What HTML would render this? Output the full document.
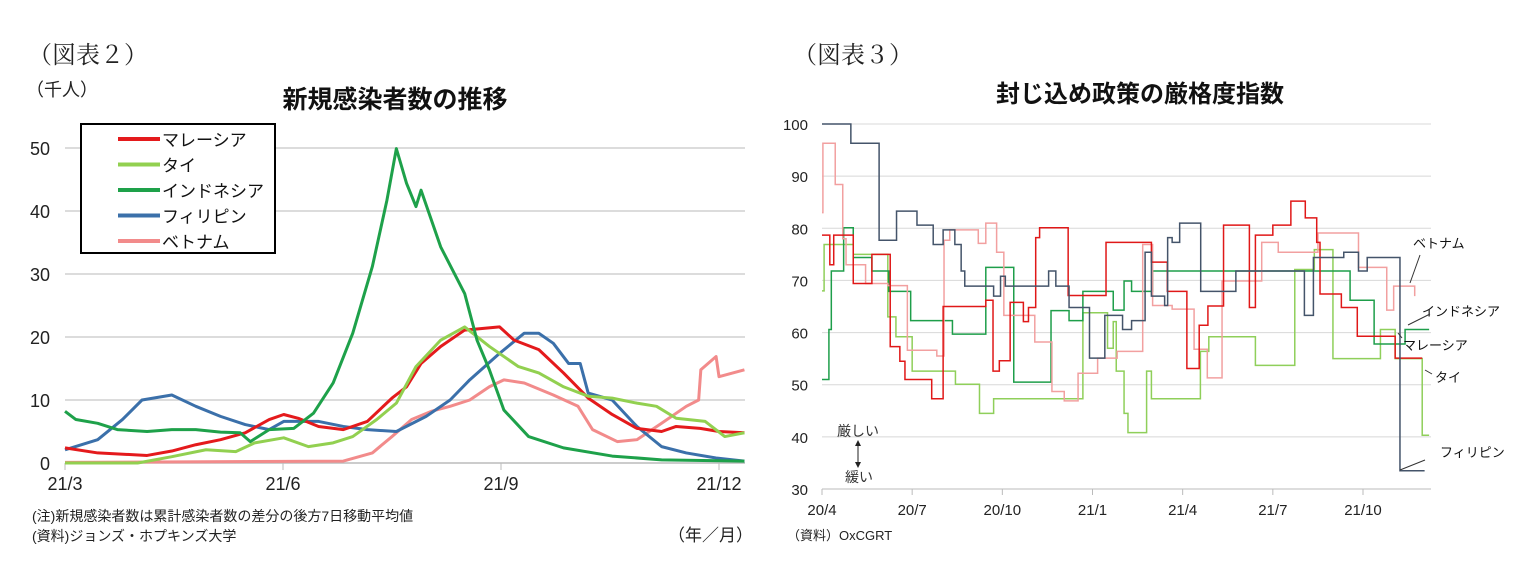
<!DOCTYPE html>
<html><head><meta charset="utf-8">
<style>
body{margin:0;background:#fff;}
svg{display:block;}
text{font-family:"Liberation Sans","Noto Sans CJK JP",sans-serif;}
.serif{font-family:"Liberation Serif","Noto Serif CJK SC",serif;}
</style></head>
<body>
<svg id="svg" width="1528" height="571" viewBox="0 0 1528 571" xmlns="http://www.w3.org/2000/svg">
<g>
<text class="serif" x="28" y="63" font-size="24" fill="#222">（図表２）</text>
<text x="26" y="96" font-size="18" fill="#222">（千人）</text>
<text x="395" y="108" font-size="25" font-weight="bold" text-anchor="middle" fill="#111">新規感染者数の推移</text>
<text x="32" y="521" font-size="14" fill="#222">(注)新規感染者数は累計感染者数の差分の後方7日移動平均値</text>
<text x="32" y="541" font-size="14" fill="#222">(資料)ジョンズ・ホプキンズ大学</text>
<text x="668" y="541" font-size="17" fill="#222">（年／月）</text>
</g>
<g id="c2"></g>
<g>
<text class="serif" x="793" y="63" font-size="24" fill="#222">（図表３）</text>
<text x="1140" y="102" font-size="24" font-weight="bold" text-anchor="middle" fill="#111">封じ込め政策の厳格度指数</text>
<text x="787" y="540" font-size="13" fill="#222">（資料）OxCGRT</text>
</g>
<g id="c3"></g>
</svg>
<script>
// ===== Chart 2 data (months since 21/3) =====
const c2Ticks = ["21/3","21/6","21/9","21/12"];
const c2TickMonths = [0,3,6,9];
const c2YTicks = [0,10,20,30,40,50];
const c2Names = ["マレーシア","タイ","インドネシア","フィリピン","ベトナム"];
const myT=[0,0.45,1.13,1.47,1.8,2.14,2.48,2.81,3.01,3.21,3.49,3.83,4.16,4.5,4.7,4.9,5.17,5.5,5.98,6.18,6.52,6.86,7.2,7.53,7.87,8.21,8.41,8.74,9.0,9.35];
const myV=[2.4,1.6,1.2,1.9,2.9,3.7,4.8,6.9,7.7,7.1,5.8,5.3,6.6,10.3,12.1,15.8,18.5,21.1,21.6,19.5,18,14.3,10.3,7.7,5.5,5,5.8,5.5,5,4.8];
const thT=[0,1.0,1.47,1.94,2.35,2.61,3.01,3.35,3.69,3.96,4.29,4.56,4.83,5.17,5.5,5.84,6.24,6.52,6.86,7.2,7.53,7.87,8.14,8.41,8.81,9.08,9.35];
const thV=[0,0,1,2.1,1.8,3.2,4,2.6,3.2,4.2,6.9,9.5,15.3,19.5,21.6,18.5,15.3,14.3,12.1,10.6,10.3,9.5,9,7.1,6.6,4.2,4.8];
const idT=[0,0.15,0.45,0.72,1.13,1.47,1.8,2.14,2.41,2.55,2.81,3.15,3.42,3.69,3.96,4.23,4.43,4.56,4.7,4.83,4.9,5.17,5.5,5.67,5.84,6.04,6.38,6.86,7.53,8.21,9.35];
const idV=[8.2,6.9,6.3,5.3,5,5.3,5.3,4.9,4.8,3.4,5.3,5.5,7.9,12.7,20.6,31.2,41.7,49.9,44.4,40.7,43.3,34.3,26.9,19.5,14.8,8.4,4.2,2.4,1.1,0.5,0.3];
const phT=[0,0.45,0.79,1.06,1.47,1.8,2.14,2.48,2.81,3.01,3.49,3.83,4.16,4.56,4.97,5.3,5.57,5.98,6.32,6.52,6.72,6.93,7.09,7.2,7.53,7.87,8.21,8.55,8.96,9.35];
const phV=[2.1,3.7,6.9,10,10.8,9,7.4,6.1,5.3,6.6,6.6,5.8,5.3,5,7.4,10,13.2,17.4,20.6,20.6,19,15.8,15.8,11.1,10,5.8,2.6,1.6,0.8,0.3];
const vnT=[0,3.83,4.23,4.5,4.77,5.04,5.3,5.57,5.84,6.04,6.32,6.72,7.06,7.26,7.6,7.87,8.21,8.55,8.72,8.75,8.96,9.0,9.35];
const vnV=[0.1,0.3,1.6,4.2,6.9,8.2,9,10,12.1,13.2,12.7,10.8,9,5.3,3.4,3.7,6.3,9,10,14.8,16.9,13.7,14.8];

// ===== Chart 3 data (months since 20/4), step series =====
const c3Ticks=["20/4","20/7","20/10","21/1","21/4","21/7","21/10"];
const c3TickMonths=[0,3,6,9,12,15,18];
const c3YTicks=[30,40,50,60,70,80,90,100];
const phsT=[0,0.96,1.9,2.48,3.16,3.7,4.03,4.42,4.63,4.75,5.71,5.94,6.1,7.54,7.78,8.22,8.9,9.41,10.0,10.3,10.75,10.96,11.4,11.5,11.65,11.9,12.6,13.77,16.05,16.35,17.36,17.85,18.14,19.23,20.05];
const phsV=[100,96.3,77.7,83.3,80.6,76.9,79.7,76.9,71.8,68.9,67,70.8,68.9,71.8,68.9,64.8,55.1,63.3,60.6,62.3,75.4,67,65.2,78.2,77.3,81,67.9,71.8,63.3,74.4,75.4,71.8,74.4,33.5,33.5];
const mysT=[0,0.26,0.39,1.04,1.66,2.27,2.59,2.76,3.65,4.03,5.45,5.69,5.9,6.26,6.7,6.87,7.11,7.24,8.19,9.45,10.96,11.49,12.14,12.55,12.84,13.36,14.22,14.42,15,15.6,16.08,16.46,16.57,17.28,17.81,19.07,19.97];
const mysV=[78.7,73,78.7,69.4,75,57.3,54.5,51,47.3,65,66.2,52.6,54.6,65.8,62.1,64.8,78.2,80.1,67.1,77.3,73.5,67.9,53.1,61.4,65.1,80.6,64.8,78.7,80.6,85.2,82,77.3,67.4,64.8,59.3,55.1,55.1];
const thsT=[0,0.07,1.04,2.19,2.46,3,4.44,5.24,5.71,8.68,9.5,9.69,9.79,10.05,10.18,10.8,10.96,12.59,12.87,14.42,15.73,16.38,17,18.58,19.07,19.97,20.2];
const thsV=[68,76.9,75,63,59.2,52.6,50.1,44.5,47.3,63.8,57,62.1,52.6,44.5,40.8,52.6,47.3,56.4,59.2,53.7,72.1,75.9,55,60.6,55,40.3,40.3];
const idsT=[0,0.23,0.31,0.72,1.04,1.66,2.22,2.95,4.34,5.45,6.38,7.62,8.22,8.68,9.69,10.05,10.3,11,17.57,18.37,19.4,20.2];
const idsV=[51,60.6,71.8,80.1,74.4,71.8,67.9,62.3,59.7,72.5,50.5,64.2,62.3,67.9,64.3,69.9,67.9,71.8,66.2,57.8,60.6,60.6];
const vnsT=[0,0.03,0.44,0.69,0.8,1.45,2.19,2.84,3.82,4.06,4.25,5.2,5.45,5.81,6.05,7.08,7.65,8.06,8.52,9.17,9.82,10.67,11,11.65,12.38,12.82,13.31,14.63,15.18,16.5,17.85,18.79,19.02,19.72];
const vnsV=[83,96.3,88.4,78,73,69.4,69,56.6,55.5,77.7,79.7,77.1,81,75.4,63.3,58.2,48.7,46.9,52.2,55.1,56.4,76.9,65.2,64.5,56.8,51.3,69.9,77.3,75.4,79.1,72.5,64.3,68.9,67,67];

const NS="http://www.w3.org/2000/svg";
function mk(tag,attrs,parent){const e=document.createElementNS(NS,tag);for(const k in attrs)e.setAttribute(k,attrs[k]);parent.appendChild(e);return e;}

// ---- Chart 2 ----
const g2=document.getElementById('c2');
const x2=m=>65+m*(719-65)/9;
const y2=v=>463-v*(463-148)/50;
c2YTicks.forEach(v=>{
  if(v>0){const l=mk('line',{x1:65,x2:745,y1:y2(v),y2:y2(v),stroke:'#d0d0d0','stroke-width':1.5},g2);
  
  }
  const t=mk('text',{x:50,y:y2(v)+7,'font-size':18,'text-anchor':'end',fill:'#222'},g2);t.textContent=v;
  
  
});
const ax2=mk('line',{x1:65,x2:745,y1:463,y2:463,stroke:'#bbb','stroke-width':1.5},g2);


c2Ticks.forEach((s,i)=>{
  const x=x2(c2TickMonths[i]);
  mk('line',{x1:x,x2:x,y1:463,y2:470,stroke:'#bbb'},g2);
  const t=mk('text',{x:x,y:490,'font-size':18,'text-anchor':'middle',fill:'#222'},g2);t.textContent=s;
  
  
});
const c2Series=[[myT,myV,'#e41a1c'],[thT,thV,'#92d050'],[idT,idV,'#1ea14a'],[phT,phV,'#3b70aa'],[vnT,vnV,'#f28b8b']];
[4,3,0,1,2].forEach(i=>{
  const [T,V,c]=c2Series[i];
  const p=mk('polyline',{points:T.map((t,j)=>x2(t)+','+y2(V[j])).join(' '),fill:'none',stroke:c,'stroke-width':3,'stroke-linejoin':'round'},g2);
  
  
});
const lg=mk('g',{},g2);


mk('rect',{x:81,y:124,width:194,height:129,fill:'#fff',stroke:'#000','stroke-width':2},lg);
c2Names.forEach((n,i)=>{
  const y=139+i*25.5;
  mk('line',{x1:118,x2:160,y1:y,y2:y,stroke:c2Series[i][2],'stroke-width':4},lg);
  const t=mk('text',{x:162,y:y+7,'font-size':17,fill:'#111'},lg);t.textContent=n;
  
  
});

// ---- Chart 3 ----
const g3=document.getElementById('c3');
const x3=m=>822+m*(1363-822)/18;
const y3=v=>489-(v-30)*(489-124)/70;
c3YTicks.forEach(v=>{
  const l=mk('line',{x1:822,x2:1431,y1:y3(v),y2:y3(v),stroke:v==30?'#bbb':'#d8d8d8','stroke-width':1},g3);
  
  
  const t=mk('text',{x:808,y:y3(v)+6,'font-size':15,'text-anchor':'end',fill:'#222'},g3);t.textContent=v;
  
  
});
c3Ticks.forEach((s,i)=>{
  const x=x3(c3TickMonths[i]);
  mk('line',{x1:x,x2:x,y1:489,y2:495,stroke:'#bbb'},g3);
  const t=mk('text',{x:x,y:515,'font-size':15,'text-anchor':'middle',fill:'#222'},g3);t.textContent=s;
  
  
});
const c3Series=[[thsT,thsV,'#8fcf5a','thailand'],[idsT,idsV,'#1e9e4a','indonesia'],[vnsT,vnsV,'#f2a0a0','vietnam'],[mysT,mysV,'#e01818','malaysia'],[phsT,phsV,'#44546a','philippines']];
c3Series.forEach(([T,V,c,n])=>{
  let pts=[];
  for(let j=0;j<T.length;j++){
    if(j>0)pts.push(x3(T[j])+','+y3(V[j-1]));
    pts.push(x3(T[j])+','+y3(V[j]));
  }
  const p=mk('polyline',{points:pts.join(' '),fill:'none',stroke:c,'stroke-width':1.5},g3);
  
  
});
const anns=[["ベトナム",1413,248,1410,283,1420,255],["インドネシア",1422,316,1408,325,1430,314],["マレーシア",1403,350,1398,333,1402,338],["タイ",1435,382,1425,370,1432,374],["フィリピン",1440,457,1400,470,1425,460]];
anns.forEach(a=>{
  const t=mk('text',{x:a[1],y:a[2],'font-size':13,fill:'#111'},g3);t.textContent=a[0];
  
  
  mk('line',{x1:a[3],y1:a[4],x2:a[5],y2:a[6],stroke:'#333','stroke-width':1},g3);
});
const s1=mk('text',{x:837,y:436,'font-size':14,fill:'#333'},g3);s1.textContent='厳しい';


const s2=mk('text',{x:845,y:482,'font-size':14,fill:'#333'},g3);s2.textContent='緩い';


mk('line',{x1:858,y1:442,x2:858,y2:466,stroke:'#222','stroke-width':1},g3);
mk('path',{d:'M855,446 L858,440 L861,446 Z M855,462 L858,468 L861,462 Z',fill:'#222'},g3);
</script>
</body></html>
